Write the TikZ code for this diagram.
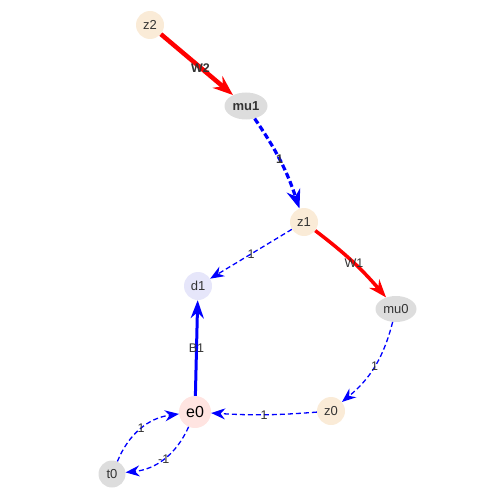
\documentclass[tikz,border=0pt]{standalone}
\usepackage{fontspec}
\setmainfont{Liberation Sans}
\usetikzlibrary{arrows.meta,shapes.geometric}
\definecolor{peach}{HTML}{FAEBD7}
\definecolor{grayfill}{HTML}{DDDDDD}
\definecolor{lav}{HTML}{E6E6FA}
\definecolor{rose}{HTML}{FFE4E1}
\definecolor{txt}{HTML}{333333}
\definecolor{eblue}{HTML}{0000FF}
\definecolor{ered}{HTML}{FF0000}
\begin{document}
\begin{tikzpicture}[x=1pt,y=-1pt,
  nd/.style={circle,minimum size=28pt,inner sep=0pt,text=txt,font=\fontsize{13}{13}\selectfont},
  el/.style={ellipse,minimum width=43pt,minimum height=27pt,inner sep=0pt,fill=grayfill,text=txt,font=\fontsize{13}{13}\selectfont},
  lab/.style={text=txt,font=\fontsize{12.5}{13}\selectfont,inner sep=1pt},
  thinarr/.style={draw=eblue,line width=1.3pt,dash pattern=on 5pt off 3pt,-{Stealth[length=14pt,width=11pt]}},
  thickred/.style={draw=ered,line width=4.5pt,-{Stealth[length=20pt,width=15pt]}},
  medred/.style={draw=ered,line width=3.5pt,-{Stealth[length=18pt,width=13pt]}},
  thickblue/.style={draw=eblue,line width=3pt,-{Stealth[length=18pt,width=13pt]}},
  thickbluedash/.style={draw=eblue,line width=3.2pt,dash pattern=on 6pt off 3pt,-{Stealth[length=19pt,width=14pt]}},
]
\useasboundingbox (0,0) rectangle (500,500);
\node[nd,fill=peach] (z2) at (150,25) {z2};
\node[el,font=\fontsize{13}{13}\selectfont\bfseries] (mu1) at (246,106) {mu1};
\node[nd,fill=peach] (z1) at (304,222) {z1};
\node[nd,fill=lav] (d1) at (198,286) {d1};
\node[el,minimum width=41pt,minimum height=26pt] (mu0) at (396,309) {mu0};
\node[nd,fill=peach] (z0) at (331,411) {z0};
\node[nd,fill=rose,minimum size=32pt,text=black,font=\fontsize{16}{16}\selectfont] (e0) at (195,412) {e0};
\node[nd,fill=grayfill,minimum size=27pt] (t0) at (112,474) {t0};

\draw[thickred] (z2) -- node[lab,pos=0.55,font=\fontsize{12.5}{13}\selectfont\bfseries] {W2} (mu1);
\draw[thickbluedash] (mu1) to[bend left=8] node[lab,pos=0.47,font=\fontsize{12.5}{13}\selectfont\bfseries] {1} (z1);
\draw[thinarr] (z1) -- node[lab] {1} (d1);
\draw[medred] (z1) to[bend left=6] node[lab,pos=0.52] {W1} (mu0);
\draw[thinarr] (mu0) to[bend left=18] node[lab,pos=0.5] {1} (z0);
\draw[thinarr] (z0) to[bend left=4] node[lab,pos=0.5] {1} (e0);
\draw[thickblue] (e0) -- node[lab,pos=0.5] {B1} (d1);
\draw[thinarr] (t0) to[bend left=30] node[lab,pos=0.5] {1} (e0);
\draw[thinarr] (e0) to[bend left=30] node[lab,pos=0.5] {-1} (t0);
\end{tikzpicture}
\end{document}
